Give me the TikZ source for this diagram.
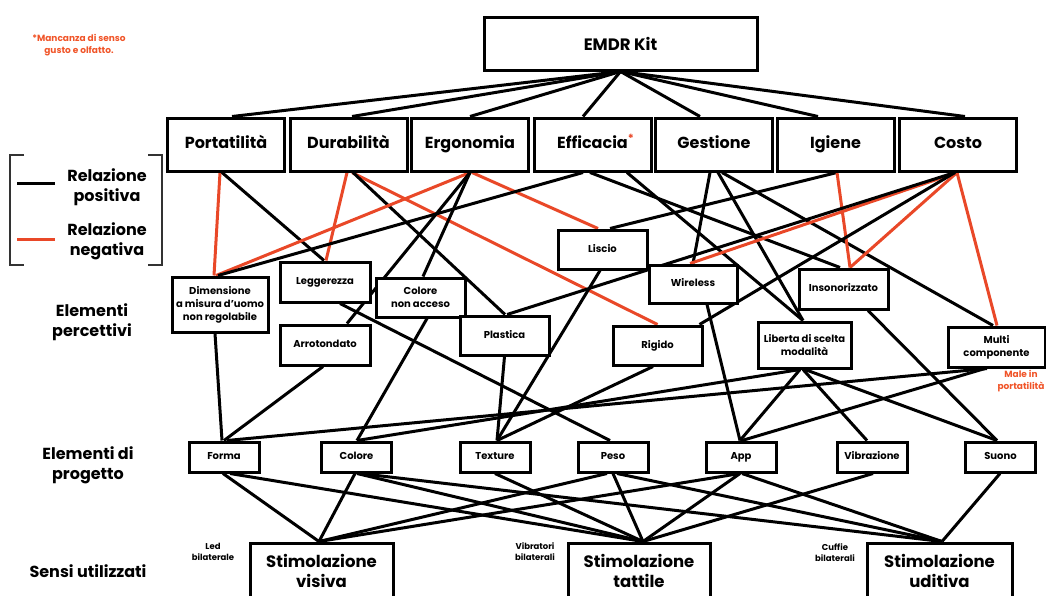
\documentclass[tikz,border=0pt]{standalone}
\usepackage{fontspec}
\setmainfont{Poppins}
\definecolor{negred}{RGB}{233,72,40}
\definecolor{notered}{RGB}{240,84,40}
\pgfdeclarelayer{edges}
\pgfsetlayers{edges,main}
\tikzset{
  box/.style={draw, line width=3pt, fill=white, inner sep=1pt, align=center},
  crit/.style={box, minimum width=117pt, minimum height=53pt, text height=12pt, text depth=3.5pt, font=\bfseries\fontsize{16}{18}\selectfont},
  perc/.style={box, font=\bfseries\fontsize{10}{13}\selectfont},
  percone/.style={perc, text height=7.5pt, text depth=2.5pt},
  proj/.style={box, minimum width=70pt, minimum height=30pt, text height=7.5pt, text depth=2.5pt, font=\bfseries\fontsize{10}{12}\selectfont},
  sense/.style={box, minimum height=55pt, font=\bfseries\fontsize{16.5}{20}\selectfont},
  posline/.style={line width=3pt, black},
  negline/.style={line width=3pt, negred},
  side/.style={font=\bfseries\fontsize{16}{20}\selectfont, align=center},
  note/.style={font=\bfseries\fontsize{8.5}{11}\selectfont, align=center},
  rednote/.style={font=\bfseries\fontsize{9}{12}\selectfont, align=center, text=notered},
  bracket/.style={line width=1.6pt, black!80},
}
\begin{document}
\begin{tikzpicture}[x=1pt, y=-1pt]
\useasboundingbox (0,0) rectangle (1046,595);

% --- root ---
\node[box, minimum width=273pt, minimum height=53pt, font=\bfseries\fontsize{16.5}{20}\selectfont] (emdr) at (620.5,43.5) {EMDR Kit};

% --- criteria ---
\node[crit] (por) at (226,144.5) {Portatilità};
\node[crit] (dur) at (348.5,144.5) {Durabilità};
\node[crit] (erg) at (470,144.5) {Ergonomia};
\node[crit] (eff) at (592.5,144.5) {Efficacia\rlap{\textsuperscript{\textcolor{negred}{*}}}};
\node[crit] (ges) at (714,144.5) {Gestione};
\node[crit] (igi) at (835.5,144.5) {Igiene};
\node[crit] (cos) at (958,144.5) {Costo};

% --- perceptual elements ---
\node[perc, minimum width=96pt, minimum height=55pt] (dim) at (220,304.5) {Dimensione\\a misura d’uomo\\non regolabile};
\node[percone, minimum width=90pt, minimum height=40pt] (leg) at (325,282) {Leggerezza};
\node[percone, minimum width=90pt, minimum height=40pt] (arr) at (325,345) {Arrotondato};
\node[perc, minimum width=89pt, minimum height=39pt] (cna) at (420.5,297.5) {Colore\\non acceso};
\node[percone, minimum width=89pt, minimum height=39pt] (pla) at (504.5,335.5) {Plastica};
\node[percone, minimum width=89pt, minimum height=39pt] (lis) at (602.5,249.5) {Liscio};
\node[percone, minimum width=89pt, minimum height=39pt] (rig) at (657.5,345.5) {Rigido};
\node[percone, minimum width=88pt, minimum height=38pt] (wir) at (693,284) {Wireless};
\node[percone, minimum width=89pt, minimum height=40pt] (ins) at (843.5,289) {Insonorizzato};
\node[perc, minimum width=93pt, minimum height=46pt] (lib) at (804.5,345) {Liberta di scelta\\modalità};
\node[perc, minimum width=97pt, minimum height=40pt] (mul) at (996.5,347) {Multi\\componente};

% --- project elements ---
\node[proj] (forma) at (224,457) {Forma};
\node[proj] (col) at (356.5,457) {Colore};
\node[proj] (tex) at (495,457) {Texture};
\node[proj] (peso) at (613,457) {Peso};
\node[proj] (app) at (741,457) {App};
\node[proj] (vib) at (872,457) {Vibrazione};
\node[proj] (suo) at (1000.5,457) {Suono};

% --- senses ---
\node[sense, minimum width=143pt] (vis) at (321.5,570.5) {Stimolazione\\visiva};
\node[sense, minimum width=142pt] (tat) at (639,570.5) {Stimolazione\\tattile};
\node[sense, minimum width=145pt] (udi) at (939.5,570.5) {Stimolazione\\uditiva};

% --- side labels and notes ---
\node[rednote] (miss) at (79,45) {*Mancanza di senso\\gusto e olfatto.};
\node[side] (lpos) at (107,187) {Relazione\\positiva};
\node[side] (lneg) at (107,241) {Relazione\\negativa};
\node[side] (lperc) at (92,322) {Elementi\\percettivi};
\node[side] (lproj) at (88,465) {Elementi di\\progetto};
\node[side] (lsens) at (88,571) {Sensi utilizzati};
\node[note] (nled) at (213,552) {Led\\bilaterale};
\node[note] (nvib) at (535,552) {Vibratori\\bilaterali};
\node[note] (ncuf) at (835,553) {Cuffie\\bilaterali};
\node[rednote] (nmale) at (1021,381) {Male in\\portatilità};

% legend bracket and samples
\draw[bracket] (24,155) -- (10,155) -- (10,265) -- (24,265);
\draw[bracket] (148,155) -- (162,155) -- (162,265) -- (148,265);
\draw[posline] (17,183) -- (55,183);
\draw[negline] (17,239) -- (55,239);

\begin{pgfonlayer}{edges}
% root to criteria
\draw[posline] (emdr.south) -- ([xshift=6pt]por.north);
\draw[posline] (emdr.south) -- ([xshift=3.5pt]dur.north);
\draw[posline] (emdr.south) -- (erg.north);
\draw[posline] (emdr.south) -- ([xshift=-9.5pt]eff.north);
\draw[posline] (emdr.south) -- ([xshift=-14pt]ges.north);
\draw[posline] (emdr.south) -- ([xshift=-17.5pt]igi.north);
\draw[posline] (emdr.south) -- ([xshift=7pt]cos.north);

% criteria to perceptual elements
\draw[negline] ([xshift=-6pt]por.south) -- ([xshift=-6pt]dim.north);
\draw[posline] ([xshift=-4pt]por.south) -- ([xshift=-1pt]leg.north);
\draw[negline] ([xshift=-1.5pt]dur.south) -- ([xshift=1pt]leg.north);
\draw[negline] ([xshift=3.5pt]dur.south) -- (rig.north);
\draw[posline] ([xshift=4.5pt]dur.south) -- ([xshift=0.5pt]pla.north);
\draw[negline] (erg.south) -- ([xshift=-4pt]dim.north);
\draw[negline] ([xshift=2pt]erg.south) -- ([xshift=-4.5pt]lis.north);
\draw[posline] (erg.south) -- ([xshift=2.5pt]cna.north);
\draw[posline] (erg.south) -- ([xshift=22pt]arr.north);
\draw[posline] ([xshift=-9.5pt]eff.south) -- ([xshift=-2pt]dim.north);
\draw[posline] ([xshift=34.5pt]eff.south) -- ([xshift=-1.5pt]lib.north);
\draw[posline] ([xshift=-2.5pt]eff.south) -- ([xshift=-3.5pt]ins.north);
\draw[posline] ([xshift=-4pt]ges.south) -- (wir.north);
\draw[posline] ([xshift=4pt]ges.south) -- ([xshift=-1.5pt]lib.north);
\draw[posline] ([xshift=8pt]ges.south) -- ([xshift=-3.5pt]mul.north);
\draw[posline] ([xshift=1.5pt]igi.south) -- ([xshift=7.5pt]lis.north);
\draw[negline] ([xshift=1.5pt]igi.south) -- ([xshift=6.5pt]ins.north);
\draw[negline] ([xshift=-1pt]cos.south) -- ([xshift=6.5pt]ins.north);
\draw[negline] ([xshift=-1pt]cos.south) -- ([xshift=0.5pt]mul.north);
\draw[negline] ([xshift=-1pt]cos.south) -- ([xshift=-3pt]wir.north);
\draw[posline] ([xshift=-3pt]cos.south) -- ([xshift=2.5pt]pla.north);
\draw[posline] ([xshift=-3pt]cos.south) -- ([xshift=42pt]rig.north);

% perceptual elements to project elements
\draw[posline] ([xshift=-5pt]dim.south) -- ([xshift=-2pt]forma.north);
\draw[posline] ([xshift=-2pt]arr.south) -- (forma.north);
\draw[posline] ([xshift=6.5pt]cna.south) -- ([xshift=0.5pt]col.north);
\draw[posline] ([xshift=15pt]leg.south) -- ([xshift=-3pt]peso.north);
\draw[posline] (pla.south) -- ([xshift=2pt]tex.north);
\draw[posline] ([xshift=-2.5pt]lis.south) -- ([xshift=2pt]tex.north);
\draw[posline] ([xshift=-4.5pt]rig.south) -- ([xshift=2pt]tex.north);
\draw[posline] ([xshift=14pt]wir.south) -- ([xshift=-1pt]app.north);
\draw[posline] ([xshift=-9.5pt]mul.south) -- ([xshift=3pt]forma.north);
\draw[posline] ([xshift=-4.5pt]lib.south) -- ([xshift=0.5pt]col.north);
\draw[posline] ([xshift=-4.5pt]lib.south) -- ([xshift=-1pt]app.north);
\draw[posline] ([xshift=-1.5pt]lib.south) -- ([xshift=-5pt]vib.north);
\draw[posline] ([xshift=0.5pt]lib.south) -- ([xshift=-3.5pt]suo.north);
\draw[posline] ([xshift=-11.5pt]mul.south) -- ([xshift=1pt]app.north);
\draw[posline] ([xshift=24.5pt]ins.south) -- ([xshift=-3.5pt]suo.north);

% project elements to senses
\draw[posline] ([xshift=-1pt]forma.south) -- ([xshift=-2.5pt]vis.north);
\draw[posline] ([xshift=6pt]forma.south) -- ([xshift=4pt]tat.north);
\draw[posline] ([xshift=-1.5pt]col.south) -- ([xshift=-2.5pt]vis.north);
\draw[posline] ([xshift=0.5pt]col.south) -- ([xshift=4pt]tat.north);
\draw[posline] ([xshift=3.5pt]col.south) -- ([xshift=2.5pt]udi.north);
\draw[posline] (tex.south) -- ([xshift=4pt]tat.north);
\draw[posline] ([xshift=-6pt]peso.south) -- ([xshift=-2.5pt]vis.north);
\draw[posline] (peso.south) -- ([xshift=4pt]tat.north);
\draw[posline] ([xshift=4pt]peso.south) -- ([xshift=2.5pt]udi.north);
\draw[posline] ([xshift=-1pt]app.south) -- ([xshift=-2.5pt]vis.north);
\draw[posline] ([xshift=-1pt]app.south) -- ([xshift=4pt]tat.north);
\draw[posline] ([xshift=1pt]app.south) -- ([xshift=2.5pt]udi.north);
\draw[posline] ([xshift=1pt]vib.south) -- ([xshift=4pt]tat.north);
\draw[posline] ([xshift=-0.5pt]suo.south) -- ([xshift=2.5pt]udi.north);
\end{pgfonlayer}
\end{tikzpicture}
\end{document}
